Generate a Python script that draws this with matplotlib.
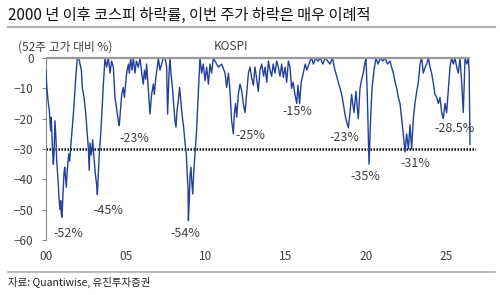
import matplotlib
matplotlib.use('Agg')
import matplotlib.pyplot as plt

plt.rcParams['font.family'] = ['Noto Sans CJK KR', 'DejaVu Sans']

# years since 2000, drawdown from 52-week high (%)
years = [0.0, 0.04, 0.125, 0.21, 0.29, 0.33, 0.40, 0.46, 0.5, 0.56, 0.625, 0.67, 0.75, 0.81,
         0.875, 0.92, 0.96, 1.0, 1.06, 1.125, 1.17, 1.23, 1.27, 1.33, 1.42, 1.48, 1.54, 1.625,
         1.71, 1.79, 1.875, 1.96, 2.06, 2.125, 2.21, 2.27, 2.375, 2.48, 2.58, 2.65, 2.7, 2.75,
         2.83, 2.92, 3.0, 3.08, 3.17, 3.21, 3.27, 3.33, 3.42, 3.5, 3.58, 3.65, 3.69, 3.79,
         3.9, 4.0, 4.1, 4.21, 4.31, 4.42, 4.52, 4.58, 4.67, 4.73, 4.83, 4.9, 4.98, 5.04,
         5.15, 5.21, 5.29, 5.375, 5.46, 5.56, 5.65, 5.77, 5.875, 5.98, 6.08, 6.15, 6.23, 6.29,
         6.4, 6.46, 6.5, 6.6, 6.71, 6.77, 6.875, 6.96, 7.02, 7.125, 7.23, 7.33, 7.44, 7.54,
         7.6, 7.69, 7.75, 7.81, 7.9, 7.96, 8.06, 8.125, 8.19, 8.27, 8.35, 8.44, 8.52, 8.6,
         8.69, 8.77, 8.83, 8.875, 8.9, 8.96, 9.0, 9.06, 9.1, 9.17, 9.23, 9.31, 9.4, 9.48,
         9.56, 9.625, 9.73, 9.83, 9.94, 10.04, 10.15, 10.25, 10.35, 10.46, 10.56, 10.77, 10.98, 11.19,
         11.29, 11.4, 11.5, 11.6, 11.71, 11.77, 11.85, 11.92, 12.02, 12.125, 12.23, 12.33, 12.44, 12.54,
         12.65, 12.75, 12.85, 12.96, 13.06, 13.17, 13.27, 13.375, 13.48, 13.6, 13.69, 13.8, 13.9, 14.0,
         14.1, 14.2, 14.31, 14.42, 14.52, 14.625, 14.73, 14.83, 14.94, 15.04, 15.15, 15.25, 15.35, 15.45,
         15.56, 15.67, 15.75, 15.85, 15.95, 16.08, 16.2, 16.3, 16.5, 16.6, 16.71, 16.85, 17.0, 17.15,
         17.3, 17.45, 17.6, 17.75, 17.9, 18.06, 18.17, 18.27, 18.38, 18.48, 18.58, 18.7, 18.79, 18.9,
         19.0, 19.1, 19.17, 19.25, 19.375, 19.45, 19.52, 19.625, 19.73, 19.83, 19.92, 20.0, 20.08, 20.19,
         20.29, 20.375, 20.5, 20.625, 20.75, 20.9, 21.05, 21.2, 21.35, 21.5, 21.6, 21.71, 21.82, 21.92,
         22.02, 22.125, 22.23, 22.33, 22.44, 22.54, 22.65, 22.75, 22.85, 22.96, 23.06, 23.17, 23.27, 23.375,
         23.48, 23.58, 23.7, 23.79, 23.9, 24.0, 24.1, 24.2, 24.31, 24.42, 24.52, 24.625, 24.73, 24.83,
         24.94, 25.04, 25.15, 25.25, 25.35, 25.46, 25.56, 25.67, 25.77, 25.875, 25.98, 26.08, 26.19, 26.3,
         26.4, 26.45, 26.5]
drawdown = [-4, -8.6, -14, -17.4, -24, -19.6, -29.5, -35, -31.6, -20.7, -27, -34, -40, -46,
            -50, -47, -51.4, -52.5, -45, -38, -36, -40, -42.6, -37, -31.6, -34, -29.5, -24,
            -18.5, -11.9, -5.3, 0, 0, -2, -4, -9.7, -13, -18, -25, -30, -37, -28,
            -32, -27, -33, -38, -42, -45, -38, -31.6, -25, -17.4, -9, -3, 0, -3,
            0, -5, -1, -3, -13, -17, -20.7, -22.3, -16, -12, -9.7, -13, -8.6, -5,
            -2, -5, 0, -4, 0, -5, -1, -3, 0, -5, -8.6, -4, -7, -2,
            -10.8, -16, -18.5, -12, -8.6, -12, -6, -3, 0, -4, -2, 0, 0, -3,
            -18.5, -5, 0, -5, -9.7, -14, -20.7, -22.8, -17.4, -14, -9.7, -15, -19.5, -22.8,
            -28, -31.6, -39, -42.6, -53.6, -46, -39, -36, -40, -44.8, -38, -31.6, -25, -16,
            -7.5, 0, -5, -2, -7.5, -3, -8.6, -2, -5, 0, -1, -3, -2, -5,
            -9.7, -5, -10.8, -20.7, -25, -18.5, -15, -19.5, -12, -8.6, -10.8, -15, -18, -12,
            -5, -3, -6.4, -9, -3, -7, -11, -4, -2, -6, -3, -8, -1, -4,
            -6, -2, -5, -1, -3, -6, -2, -6.4, -3, -8, -1, -3, -10, -8,
            -12, -15, -9, -15, -8, -5, -2, -4, -1, 0, -2, 0, -1, 0,
            -2, 0, -1, -2, 0, -4, -6, -8, -10, -12, -15, -19, -21, -23,
            -18, -12, -15, -18, -11, -16, -20, -10, -7, -5, -2, 0, -12, -35,
            -20, -10, -4, 0, -2, 0, -1, 0, -2, -1, -3, -5, -8, -10,
            -13, -15, -20, -25, -31, -25, -30, -22, -30, -20, -15, -11, -8, -2,
            0, -5, -3, -2, 0, -3, -5, -8, -12, -13, -15, -13, -18, -20,
            -15, -18, -10, -3, 0, -2, 0, -3, -5, 0, -8, -18, 0, -2,
            0, -5, -28.5]
ytick_vals = [0, -10, -20, -30, -40, -50, -60]
xtick_vals = [0, 5, 10, 15, 20, 25]
xtick_labels = ['00', '05', '10', '15', '20', '25']
notes = [('-52%', 1.4, -58), ('-45%', 3.9, -50.4), ('-23%', 5.5, -26.7), ('-54%', 8.73, -57.7),
         ('-25%', 12.75, -25.4), ('-15%', 15.73, -17.7), ('-23%', 18.65, -26.3),
         ('-35%', 19.94, -39.1), ('-31%', 23.1, -34.7), ('-28.5%', 25.56, -23.3)]

fig = plt.figure(figsize=(5, 2.95), dpi=100)
ax = fig.add_axes([0.092, 0.1864, 0.86, 0.617])

ax.plot(years, drawdown, color='#22409a', lw=1.0, zorder=3)
ax.axhline(-30, color='black', lw=1.8, linestyle=(0, (0.6, 0.6)), zorder=2)
ax.hlines(0, 0, years[-1], color='#999999', lw=1.6, zorder=4, clip_on=False)

for txt, x, y in notes:
    ax.text(x, y, txt, ha='center', va='center', fontsize=9, color='#404040')

ax.set_xlim(0, 26.875)
ax.set_ylim(-60, 0)
ax.set_yticks(ytick_vals)
ax.set_xticks(xtick_vals)
ax.set_xticklabels(xtick_labels)
for s in ['top', 'right', 'bottom']:
    ax.spines[s].set_visible(False)
ax.spines['left'].set_color('#888888')
ax.tick_params(axis='y', length=3, color='#888888', labelsize=8.5, labelcolor='#404040', pad=6)
ax.tick_params(axis='x', length=0, labelsize=8.5, labelcolor='#404040', pad=7)

fig.text(0.016, 0.949, '2000 년 이후 코스피 하락률, 이번 주가 하락은 매우 이례적',
         fontsize=11, va='center', ha='left', color='#111111')
fig.add_artist(plt.Line2D([0.016, 0.99], [0.908, 0.908], color='#b0b0b0', lw=1.5))
fig.text(0.036, 0.841, '(52주 고가 대비 %)', fontsize=8.5, va='center', ha='left', color='#404040')
fig.text(0.462, 0.841, 'KOSPI', fontsize=8.5, va='center', ha='center', color='#404040')
fig.add_artist(plt.Line2D([0.016, 0.99], [0.078, 0.078], color='#b0b0b0', lw=1.2))
fig.text(0.016, 0.041, '자료: Quantiwise, 유진투자증권', fontsize=7.5, va='center', ha='left', color='#222222')

fig.savefig('out.png', dpi=100)
